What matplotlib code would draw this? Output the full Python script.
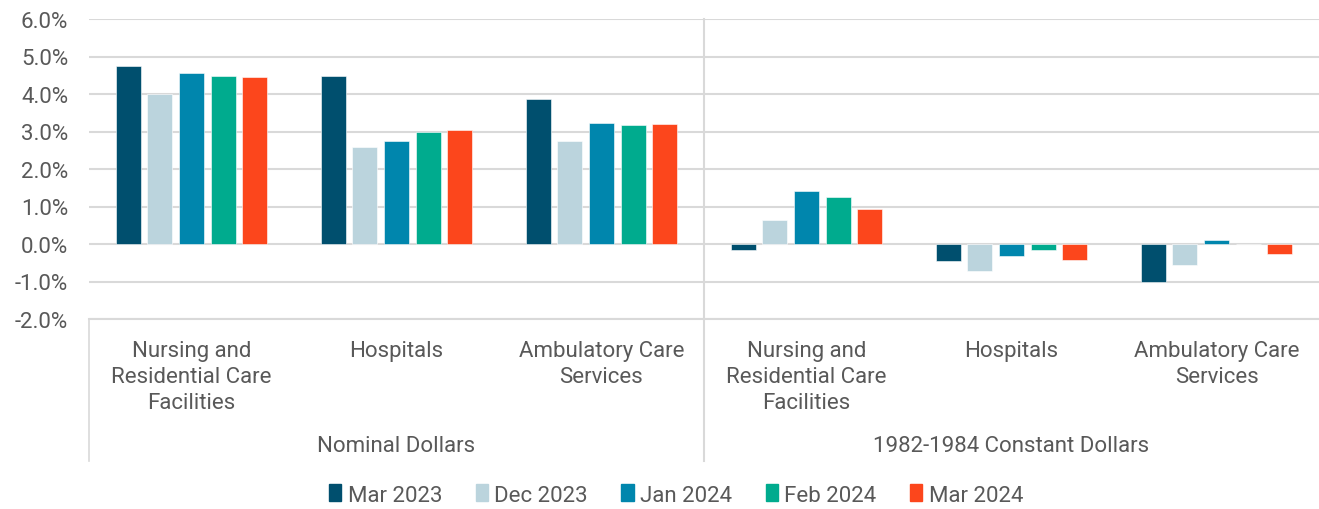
import matplotlib.pyplot as plt
from matplotlib.patches import Patch
import numpy as np

plt.rcParams['font.family'] = ['Roboto', 'DejaVu Sans']

# categories and groups
categories = ['Nursing and\nResidential Care\nFacilities', 'Hospitals', 'Ambulatory Care\nServices',
              'Nursing and\nResidential Care\nFacilities', 'Hospitals', 'Ambulatory Care\nServices']
groups = ['Nominal Dollars', '1982-1984 Constant Dollars']
series = ['Mar 2023', 'Dec 2023', 'Jan 2024', 'Feb 2024', 'Mar 2024']

# percent change values
mar_2023 = [4.76, 4.47, 3.87, -0.17, -0.44, -1.02]
dec_2023 = [3.99, 2.60, 2.74, 0.64, -0.71, -0.57]
jan_2024 = [4.57, 2.76, 3.22, 1.41, -0.33, 0.12]
feb_2024 = [4.47, 2.98, 3.18, 1.26, -0.17, 0.0]
mar_2024 = [4.45, 3.05, 3.21, 0.94, -0.42, -0.26]
values = [mar_2023, dec_2023, jan_2024, feb_2024, mar_2024]

colors = ['#004F6E', '#BBD4DD', '#0086AD', '#00AB8E', '#FC461C']
text_color = '#595959'
grid_color = '#D9D9D9'

W, H = 1319, 510
fig = plt.figure(figsize=(W / 100, H / 100), dpi=100)
ax = fig.add_axes([89 / W, 1 - 320 / H, (W - 89) / W, 300 / H])

x = np.arange(len(categories))
step = 0.154
width = 0.122
for i, (name, vals) in enumerate(zip(series, values)):
    ax.bar(x + (i - 2) * step, vals, width, color=colors[i], label=name, zorder=3,
           edgecolor='white', linewidth=0.4)

ax.set_xlim(-0.5, 5.5)
ax.set_ylim(-2, 6)
ax.set_yticks(np.arange(-2, 7, 1))
ax.set_yticklabels([f'{v:.1f}%' for v in np.arange(-2, 7, 1)], fontsize=16, color=text_color)
ax.tick_params(axis='y', length=0, pad=15)
ax.tick_params(axis='x', length=0, labelbottom=False)
ax.grid(axis='y', color=grid_color, linewidth=1.5, zorder=0)
for s in ax.spines.values():
    s.set_visible(False)

# separator lines for the two-level axis
px = 1 / 300  # one pixel in axes-fraction (vertical)
ax.plot([-0.5, 5.5], [0, 0], transform=ax.get_xaxis_transform(), color=grid_color,
        lw=1.5, clip_on=False, zorder=1)
ax.plot([-0.5, -0.5], [0, -142 * px], transform=ax.get_xaxis_transform(), color=grid_color,
        lw=1.2, clip_on=False)
ax.plot([2.5, 2.5], [1, -142 * px], transform=ax.get_xaxis_transform(), color=grid_color,
        lw=1.5, clip_on=False, zorder=1)

for xi, lab in zip(x, categories):
    ax.text(xi, -21 * px, lab, transform=ax.get_xaxis_transform(), ha='center', va='top',
            fontsize=16, color=text_color, linespacing=1.32)
for gi, g in enumerate(groups):
    ax.text(1 + 3 * gi, -127 * px, g, transform=ax.get_xaxis_transform(), ha='center',
            va='center', fontsize=16, color=text_color)

handles = [Patch(color=c, label=s) for c, s in zip(colors, series)]
fig.legend(handles=handles, loc='center', bbox_to_anchor=(676 / W, 1 - 496 / H), ncol=5,
           frameon=False, fontsize=16, labelcolor=text_color, handlelength=0.55,
           handleheight=0.8, handletextpad=0.3, columnspacing=1.5)

fig.savefig('out.png', dpi=100)
